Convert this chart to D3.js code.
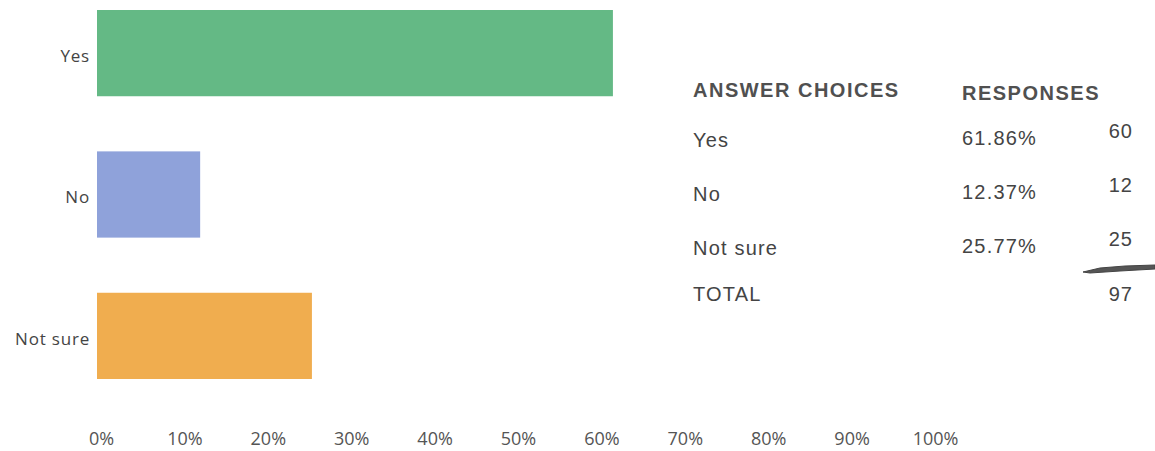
<!DOCTYPE html>
<html>
<head>
<meta charset="utf-8">
<script src="https://cdn.jsdelivr.net/npm/d3@7"></script>
<style>
  body { margin: 0; background: #fff; }
  svg { display: block; }
</style>
</head>
<body>
<svg width="1155" height="451"></svg>
<script>
const svg = d3.select("svg");

// data
const choices = ["Yes", "No", "Not sure"];
const percents = [61.86, 12.37, 25.77];
const counts = [60, 12, 25];
const total = 97;
const barColors = ["#64b985", "#8fa2da", "#f0ad4f"];
const xTicks = [0, 10, 20, 30, 40, 50, 60, 70, 80, 90, 100];

const x = d3.scaleLinear().domain([0, 100]).range([97, 931]);
const y = d3.scaleBand().domain(choices).range([10, 379]).paddingInner(0.39).paddingOuter(0);

// bars
svg.append("g").selectAll("rect")
  .data(choices)
  .join("rect")
  .attr("x", x(0))
  .attr("y", d => y(d))
  .attr("width", (d, i) => x(percents[i]) - x(0))
  .attr("height", y.bandwidth())
  .attr("fill", (d, i) => barColors[i]);

// category labels
svg.append("g").selectAll("text")
  .data(choices)
  .join("text")
  .attr("x", x(0) - 7)
  .attr("y", d => y(d) + y.bandwidth() / 2 + 3)
  .attr("dy", "0.35em")
  .attr("text-anchor", "end")
  .attr("font-family", "Open Sans, sans-serif")
  .attr("font-size", 17)
  .attr("letter-spacing", 0.8)
  .attr("fill", "#444")
  .text(d => d);

// x axis, labels only
const xAxis = svg.append("g")
  .attr("transform", "translate(0,429)")
  .call(d3.axisBottom(x).tickValues(xTicks).tickSize(0).tickFormat(d => d + "%"));
xAxis.select(".domain").remove();
xAxis.selectAll("text")
  .attr("font-family", "Open Sans, sans-serif")
  .attr("font-size", 18)
  .attr("fill", "#555")
  .attr("dx", 4);

// summary table
const tbl = svg.append("g")
  .attr("font-family", "Liberation Sans, Arial, sans-serif")
  .attr("fill", "#444");

tbl.append("text").attr("x", 693).attr("y", 97)
  .attr("font-size", 20).attr("font-weight", "bold").attr("fill", "#505050")
  .attr("letter-spacing", 1.5)
  .text("ANSWER CHOICES");
tbl.append("text").attr("x", 962).attr("y", 100)
  .attr("font-size", 20).attr("font-weight", "bold").attr("fill", "#505050")
  .attr("letter-spacing", 1.5)
  .text("RESPONSES");

const rowY = d3.scaleLinear().domain([0, 1]).range([147, 201]);

choices.forEach((c, i) => {
  tbl.append("text").attr("x", 693).attr("y", rowY(i))
    .attr("font-size", 20).attr("letter-spacing", 1.2).text(c);
  tbl.append("text").attr("x", 962).attr("y", rowY(i) - 2)
    .attr("font-size", 20).attr("letter-spacing", 1.2).text(percents[i].toFixed(2) + "%");
  tbl.append("text").attr("x", 1133).attr("y", rowY(i) - 9)
    .attr("text-anchor", "end").attr("font-size", 20).attr("letter-spacing", 1).text(counts[i]);
});

tbl.append("text").attr("x", 693).attr("y", 301)
  .attr("font-size", 20).attr("letter-spacing", 1.2).text("TOTAL");
tbl.append("text").attr("x", 1133).attr("y", 301)
  .attr("text-anchor", "end").attr("font-size", 20).attr("letter-spacing", 1).text(total);

// pen mark under the counts
svg.append("path")
  .attr("d", "M1083,272 L1100,268 L1125,266 L1155,265 L1155,269 L1120,271 L1090,273 Z")
  .attr("fill", "#555")
  .attr("stroke", "#444")
  .attr("stroke-width", 1);
</script>
</body>
</html>
